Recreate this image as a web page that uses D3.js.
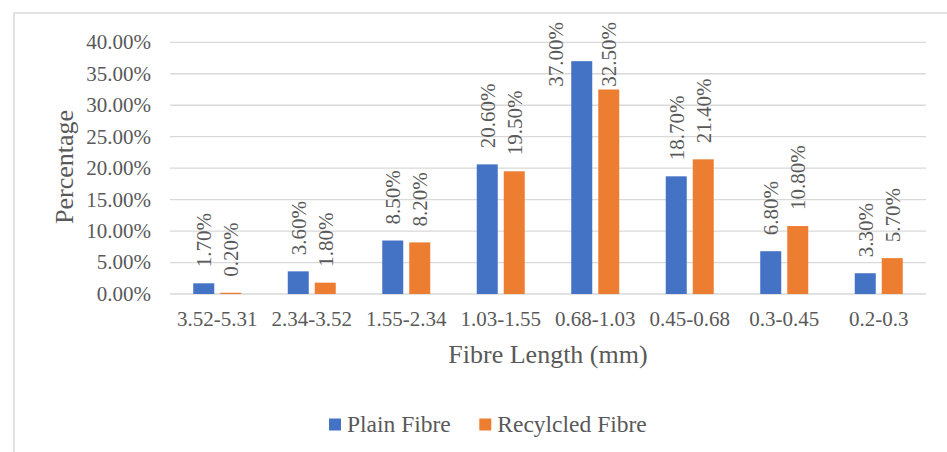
<!DOCTYPE html>
<html>
<head>
<meta charset="utf-8">
<script src="https://cdn.jsdelivr.net/npm/d3@7"></script>
<style>
  html, body { margin: 0; padding: 0; background: #fff; }
  svg { display: block; }
</style>
</head>
<body>
<svg id="chart" width="947" height="452" font-family="'Liberation Serif', 'Times New Roman', Tinos, 'DejaVu Serif', serif"></svg>
<script>
const categories = ["3.52-5.31", "2.34-3.52", "1.55-2.34", "1.03-1.55", "0.68-1.03", "0.45-0.68", "0.3-0.45", "0.2-0.3"];
const seriesNames = ["Plain Fibre", "Recylcled Fibre"];
const plainFibre = [0.017, 0.036, 0.085, 0.206, 0.370, 0.187, 0.068, 0.033];
const recycledFibre = [0.002, 0.018, 0.082, 0.195, 0.325, 0.214, 0.108, 0.057];
const yTicks = [0, 0.05, 0.10, 0.15, 0.20, 0.25, 0.30, 0.35, 0.40];
const colors = ["#4472C4", "#ED7D31"];

const svg = d3.select("#chart");
const textColor = "#595959";
const plot = { left: 170, right: 926, top: 42.3, bottom: 294 };

svg.append("rect").attr("x", 14).attr("y", 13).attr("width", 1000).attr("height", 600)
  .attr("fill", "none").attr("stroke", "#D9D9D9").attr("stroke-width", 1.5);

const x0 = d3.scaleBand().domain(categories).range([plot.left, plot.right]).padding(0);
const groupW = 48;
const x1 = d3.scaleBand().domain(seriesNames).range([0, groupW]).paddingInner(2 - groupW / 27).paddingOuter(0);
const y = d3.scaleLinear().domain([0, 0.40]).range([plot.bottom, plot.top]);

svg.append("g").selectAll("line").data(yTicks).join("line")
  .attr("x1", plot.left).attr("x2", plot.right)
  .attr("y1", d => y(d)).attr("y2", d => y(d))
  .attr("stroke", "#D9D9D9").attr("stroke-width", 1.3);

const fmt = d => (d * 100).toFixed(2) + "%";
svg.append("g").selectAll("text").data(yTicks).join("text")
  .attr("x", 151).attr("y", d => y(d)).attr("dy", "0.33em")
  .attr("text-anchor", "end").attr("font-size", 21).attr("fill", textColor).text(fmt);

svg.append("g").selectAll("text").data(categories).join("text")
  .attr("x", d => x0(d) + x0.bandwidth() / 2).attr("y", 325.5)
  .attr("text-anchor", "middle").attr("font-size", 21).attr("fill", textColor).text(d => d);

const data = categories.map((c, i) => ({ cat: c, vals: [plainFibre[i], recycledFibre[i]] }));
const groups = svg.append("g").selectAll("g").data(data).join("g")
  .attr("transform", d => `translate(${x0(d.cat) + (x0.bandwidth() - groupW) / 2},0)`);

groups.selectAll("rect").data(d => d.vals.map((v, j) => ({ s: seriesNames[j], v, j }))).join("rect")
  .attr("x", d => x1(d.s)).attr("width", x1.bandwidth())
  .attr("y", d => y(d.v)).attr("height", d => plot.bottom - y(d.v))
  .attr("fill", d => colors[d.j]);

const labelTop = 22;
const labels = svg.append("g");
data.forEach(d => {
  const gx = x0(d.cat) + (x0.bandwidth() - groupW) / 2;
  d.vals.forEach((v, j) => {
    const barLeft = gx + x1(seriesNames[j]);
    const cx = barLeft + x1.bandwidth() / 2;
    const barTop = y(v);
    const t = labels.append("text").attr("font-size", 21).attr("fill", textColor)
      .attr("text-anchor", "start").text(fmt(v));
    const L = t.node().getComputedTextLength();
    let start = barTop - 16;
    let xx = cx;
    let dy = "0.35em";
    if (start - L < labelTop) {
      start = labelTop + L;
      if (start > barTop - 2) {
        xx = barLeft - 8;
        dy = "0";
      }
    }
    t.attr("transform", `translate(${xx},${start}) rotate(-90)`).attr("dy", dy);
  });
});

svg.append("text").attr("x", (plot.left + plot.right) / 2).attr("y", 363)
  .attr("text-anchor", "middle").attr("font-size", 26).attr("fill", textColor).text("Fibre Length (mm)");
svg.append("text").attr("transform", "translate(73,167) rotate(-90)")
  .attr("text-anchor", "middle").attr("font-size", 26).attr("fill", textColor).text("Percentage");

const legendX = [329, 479.3];
const lg = svg.append("g").selectAll("g").data(seriesNames).join("g")
  .attr("transform", (d, i) => `translate(${legendX[i]},418.5)`);
lg.append("rect").attr("width", 12).attr("height", 12).attr("fill", (d, i) => colors[i]);
lg.append("text").attr("x", 18).attr("y", 13).attr("font-size", 23.5).attr("fill", textColor).text(d => d);
</script>
</body>
</html>
